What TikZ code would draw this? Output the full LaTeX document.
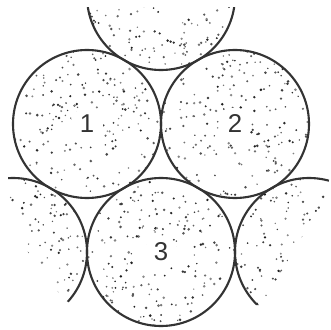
\documentclass[tikz,border=0pt]{standalone}
\usepackage{fontspec}
\setsansfont{Liberation Sans}
\usepackage{tikz}

\begin{document}
\begin{tikzpicture}[x=0.03cm, y=0.03cm,
  ball/.style={circle, draw=black!80, line width=1.8pt, minimum size=4.44cm, inner sep=0pt,
    path picture={
      \foreach \k in {1,...,240}{
        \pgfmathsetmacro\dx{rand*2.25}
        \pgfmathsetmacro\dy{rand*2.25}
        \pgfmathsetmacro\dr{0.022+0.022*rnd}
        \pgfmathtruncatemacro\dk{45+45*rnd}
        \fill[black!\dk] ([shift={(\dx cm,\dy cm)}]path picture bounding box.center) circle (\dr cm);
      }
    }},
  num/.style={circle, fill=white, inner sep=3pt, text=black!80, font=\sffamily\fontsize{22}{22}\selectfont}]
  \pgfmathsetseed{7}
  \useasboundingbox (0,0) rectangle (331,329);
  % close packed rods
  \node[ball] (c1) at (87,205) {};
  \node[ball] (c2) at (235,205) {};
  \node[ball] (c3) at (161,77) {};
  % neighbours cut off by the frame
  \begin{scope}
    \clip (0,0) rectangle (331,321);
    \node[ball] (top) at (161,333) {};
  \end{scope}
  \begin{scope}
    \clip (8,162) -- (8,129) -- (20,89) -- (40,59) -- (65,29) -- (73,24) -- (100,24) -- (100,162) -- cycle;
    \node[ball] (left) at (13,77) {};
  \end{scope}
  \begin{scope}
    \clip (331,162) -- (331,159) -- (325,129) -- (300,89) -- (285,64) -- (275,29) -- (262,24) -- (230,24) -- (230,162) -- cycle;
    \node[ball] (right) at (309,77) {};
  \end{scope}
  % labels
  \node[num] (n1) at (c1) {1};
  \node[num] (n2) at (c2) {2};
  \node[num] (n3) at (c3) {3};
\end{tikzpicture}
\end{document}
